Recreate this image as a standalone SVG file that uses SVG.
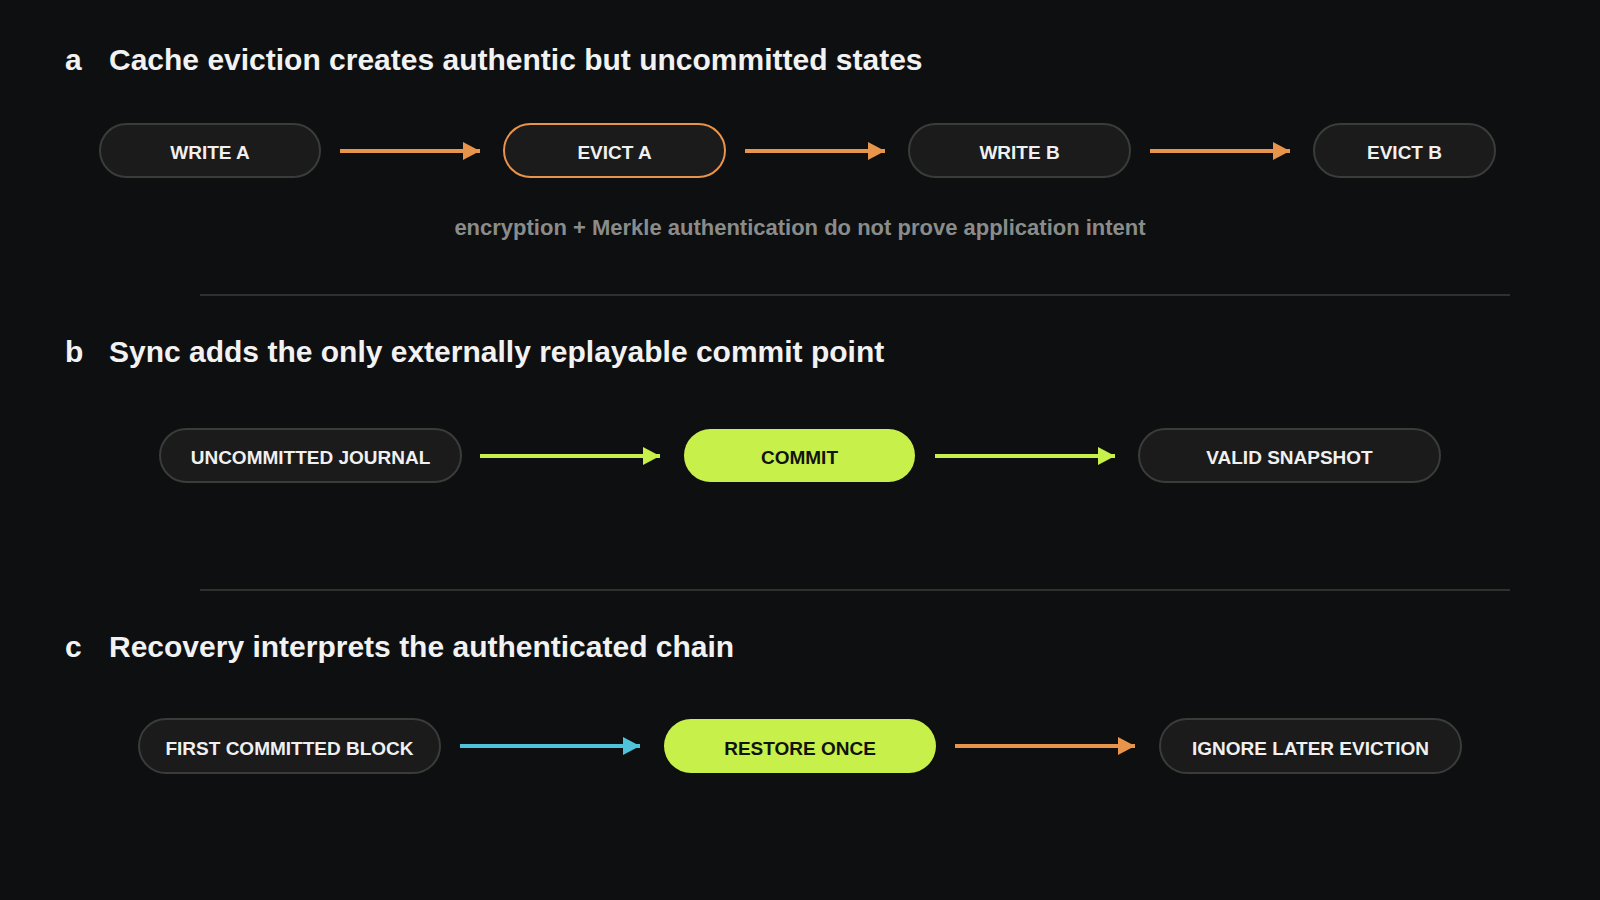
<svg xmlns="http://www.w3.org/2000/svg" width="1600" height="900" viewBox="0 0 1600 900">
  <defs>
    <style>
      .title { font-family: "Liberation Sans", Arial, sans-serif; font-weight: bold; font-size: 30px; fill: #f2f2f2; }
      .sub { font-family: "Liberation Sans", Arial, sans-serif; font-weight: bold; font-size: 22px; fill: #8a8c8a; text-anchor: middle; }
      .pill { fill: #1a1b1a; stroke: #3a3c3a; stroke-width: 2; }
      .pill-orange { fill: #1a1b1a; stroke: #e8944a; stroke-width: 2; }
      .pill-lime { fill: #c8f04a; stroke: none; }
      .lbl { font-family: "Liberation Sans", Arial, sans-serif; font-weight: bold; font-size: 19px; fill: #f0f0f0; text-anchor: middle; }
      .lbl-dark { font-family: "Liberation Sans", Arial, sans-serif; font-weight: bold; font-size: 19px; fill: #10140a; text-anchor: middle; }
      .sep { stroke: #2e322f; stroke-width: 2; }
      .c-orange { stroke: #e8944a; stroke-width: 4; fill: none; }
      .c-lime { stroke: #c8f04a; stroke-width: 4; fill: none; }
      .c-cyan { stroke: #4fc3d9; stroke-width: 4; fill: none; }
    </style>
    <marker id="ah-orange" markerUnits="userSpaceOnUse" markerWidth="18" markerHeight="18" refX="17" refY="9" orient="auto" viewBox="0 0 18 18">
      <path d="M0,0 L17,9 L0,18 Z" fill="#e8944a"/>
    </marker>
    <marker id="ah-lime" markerUnits="userSpaceOnUse" markerWidth="18" markerHeight="18" refX="17" refY="9" orient="auto" viewBox="0 0 18 18">
      <path d="M0,0 L17,9 L0,18 Z" fill="#c8f04a"/>
    </marker>
    <marker id="ah-cyan" markerUnits="userSpaceOnUse" markerWidth="18" markerHeight="18" refX="17" refY="9" orient="auto" viewBox="0 0 18 18">
      <path d="M0,0 L17,9 L0,18 Z" fill="#4fc3d9"/>
    </marker>
  </defs>

  <rect x="0" y="0" width="1600" height="900" fill="#0e0f11"/>

  <!-- Section titles -->
  <g id="titles">
    <text class="title" x="65" y="70">a</text>
    <text class="title" x="109" y="70">Cache eviction creates authentic but uncommitted states</text>
    <text class="title" x="65" y="362">b</text>
    <text class="title" x="109" y="362">Sync adds the only externally replayable commit point</text>
    <text class="title" x="65" y="657">c</text>
    <text class="title" x="109" y="657">Recovery interprets the authenticated chain</text>
    <text class="sub" x="800" y="234.5">encryption + Merkle authentication do not prove application intent</text>
  </g>

  <g id="separators">
    <line class="sep" x1="200" y1="295" x2="1510" y2="295"/>
    <line class="sep" x1="200" y1="590" x2="1510" y2="590"/>
  </g>

  <!-- Connectors -->
  <g id="connectors">
    <line class="c-orange" x1="340" y1="151" x2="480" y2="151" marker-end="url(#ah-orange)"/>
    <line class="c-orange" x1="745" y1="151" x2="885" y2="151" marker-end="url(#ah-orange)"/>
    <line class="c-orange" x1="1150" y1="151" x2="1290" y2="151" marker-end="url(#ah-orange)"/>
    <line class="c-lime" x1="480" y1="456" x2="660" y2="456" marker-end="url(#ah-lime)"/>
    <line class="c-lime" x1="935" y1="456" x2="1115" y2="456" marker-end="url(#ah-lime)"/>
    <line class="c-cyan" x1="460" y1="746" x2="640" y2="746" marker-end="url(#ah-cyan)"/>
    <line class="c-orange" x1="955" y1="746" x2="1135" y2="746" marker-end="url(#ah-orange)"/>
  </g>

  <!-- Section a nodes -->
  <g id="node-write-a">
    <rect class="pill" x="100" y="124" width="220" height="53" rx="26.5"/>
    <text class="lbl" x="210" y="159">WRITE A</text>
  </g>
  <g id="node-evict-a">
    <rect class="pill-orange" x="504" y="124" width="221" height="53" rx="26.5"/>
    <text class="lbl" x="614.5" y="159">EVICT A</text>
  </g>
  <g id="node-write-b">
    <rect class="pill" x="909" y="124" width="221" height="53" rx="26.5"/>
    <text class="lbl" x="1019.5" y="159">WRITE B</text>
  </g>
  <g id="node-evict-b">
    <rect class="pill" x="1314" y="124" width="181" height="53" rx="26.5"/>
    <text class="lbl" x="1404.5" y="159">EVICT B</text>
  </g>

  <!-- Section b nodes -->
  <g id="node-uncommitted-journal">
    <rect class="pill" x="160" y="429" width="301" height="53" rx="26.5"/>
    <text class="lbl" x="310.5" y="464">UNCOMMITTED JOURNAL</text>
  </g>
  <g id="node-commit">
    <rect class="pill-lime" x="684" y="429" width="231" height="53" rx="26.5"/>
    <text class="lbl-dark" x="799.5" y="464">COMMIT</text>
  </g>
  <g id="node-valid-snapshot">
    <rect class="pill" x="1139" y="429" width="301" height="53" rx="26.5"/>
    <text class="lbl" x="1289.5" y="464">VALID SNAPSHOT</text>
  </g>

  <!-- Section c nodes -->
  <g id="node-first-committed-block">
    <rect class="pill" x="139" y="719" width="301" height="54" rx="27"/>
    <text class="lbl" x="289.5" y="754.5">FIRST COMMITTED BLOCK</text>
  </g>
  <g id="node-restore-once">
    <rect class="pill-lime" x="664" y="719" width="272" height="54" rx="27"/>
    <text class="lbl-dark" x="800" y="754.5">RESTORE ONCE</text>
  </g>
  <g id="node-ignore-later-eviction">
    <rect class="pill" x="1160" y="719" width="301" height="54" rx="27"/>
    <text class="lbl" x="1310.5" y="754.5">IGNORE LATER EVICTION</text>
  </g>
</svg>
